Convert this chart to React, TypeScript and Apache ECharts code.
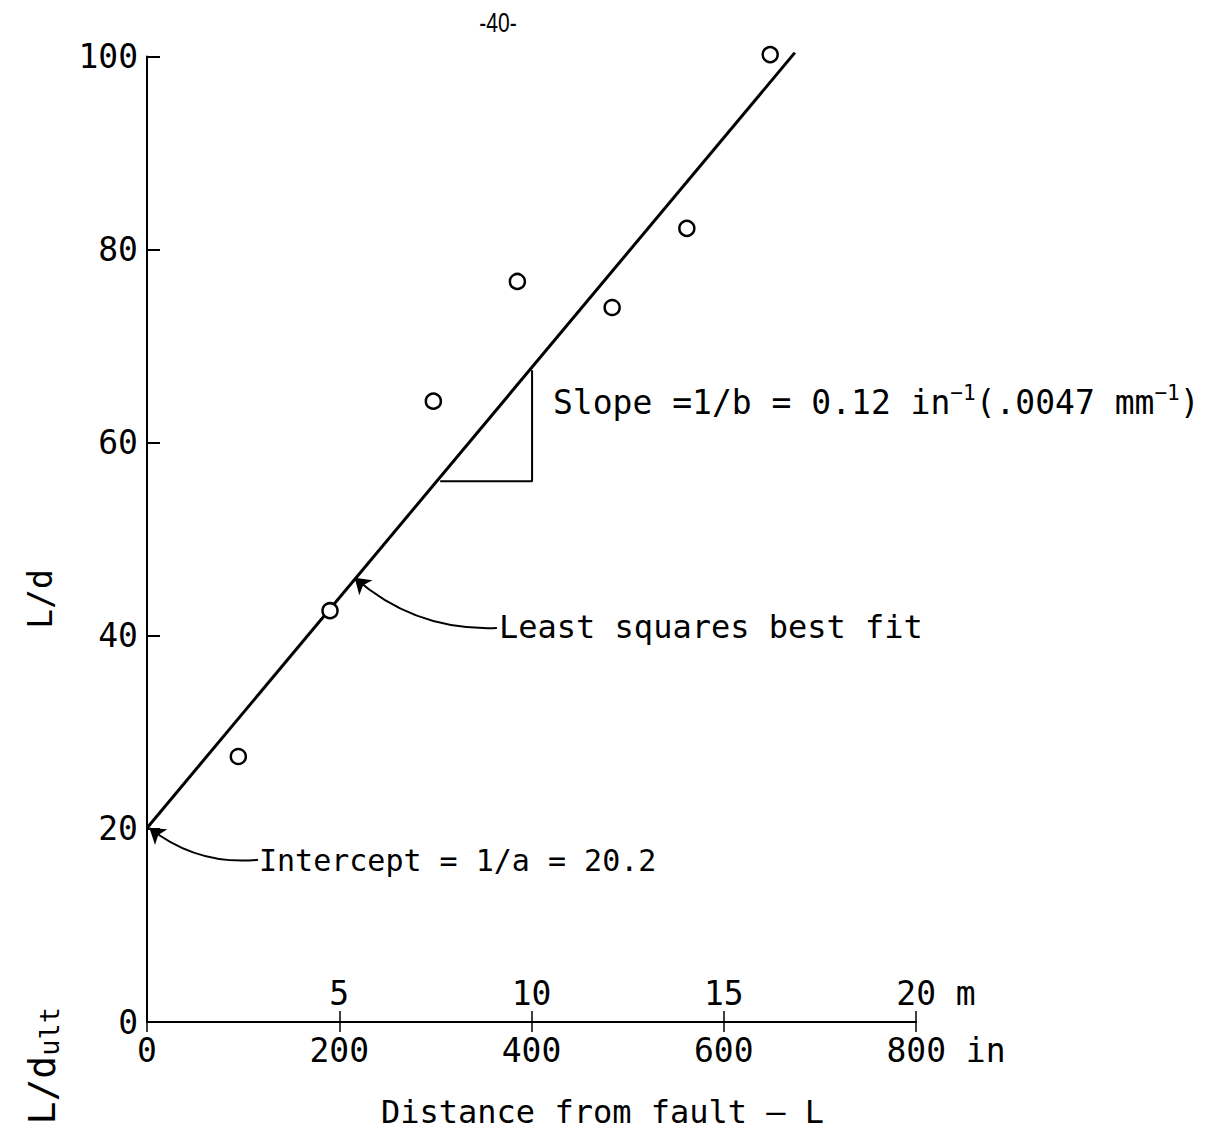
import React, { useEffect, useRef } from 'react';
import * as echarts from 'echarts';

// Axis ticks
const inchTicks = [0, 200, 400, 600, 800];
const meterTicks = [0, 5, 10, 15, 20];
const yTicks = [0, 20, 40, 60, 80, 100];

// Observed points (distance in inches, L/d)
const pointsX = [95, 190.4, 297.9, 385.3, 483.9, 561.6, 648.3];
const pointsY = [27.5, 42.6, 64.3, 76.7, 74.0, 82.2, 100.2];

// Least squares best fit line end points
const fitX = [0, 674];
const fitY = [20.1, 100.4];

// Slope triangle
const triX = [305, 400.6, 400.6];
const triY = [56, 56, 67.5];

// Annotation arrows (tail -> head), in data units
const fitArrowFrom = [364, 40.8];
const fitArrowTo = [216, 46.0];
const interceptArrowFrom = [115.5, 16.8];
const interceptArrowTo = [2.5, 20.1];

const FONT = 'DejaVu Sans Mono';

export default function App() {
  const ref = useRef<HTMLDivElement>(null);

  useEffect(() => {
    if (!ref.current) return;
    const chart = echarts.init(ref.current, null, { renderer: 'svg' });

    const option: any = {
      animation: false,
      backgroundColor: '#fff',
      grid: { left: 147, right: 296, top: 56.5, bottom: 111, containLabel: false },
      xAxis: [
        {
          type: 'value',
          min: inchTicks[0],
          max: inchTicks[inchTicks.length - 1],
          interval: 200,
          position: 'bottom',
          axisLine: { show: true, onZero: false, lineStyle: { color: '#000', width: 2 } },
          axisTick: { show: true, inside: true, length: 11, lineStyle: { color: '#000', width: 1.5 } },
          splitLine: { show: false },
          axisLabel: {
            color: '#000',
            fontFamily: FONT,
            fontSize: 33,
            margin: 12,
            formatter: (v: number) => (v === 800 ? '{u|800 in}' : String(v)),
            rich: { u: { fontFamily: FONT, fontSize: 33, color: '#000', padding: [0, 0, 0, 60] } },
          },
        },
        {
          type: 'value',
          min: meterTicks[0],
          max: meterTicks[meterTicks.length - 1],
          interval: 5,
          position: 'bottom',
          axisLine: { show: false, onZero: false },
          axisTick: { show: true, inside: false, length: 10, lineStyle: { color: '#000', width: 1.5 } },
          splitLine: { show: false },
          axisLabel: {
            inside: true,
            color: '#000',
            fontFamily: FONT,
            fontSize: 33,
            margin: 12,
            formatter: (v: number) => (v === 0 ? '' : v === 20 ? '{u|20 m}' : String(v)),
            rich: { u: { fontFamily: FONT, fontSize: 33, color: '#000', padding: [0, 0, 0, 40] } },
          },
        },
      ],
      yAxis: {
        type: 'value',
        min: yTicks[0],
        max: yTicks[yTicks.length - 1],
        interval: 20,
        axisLine: { show: true, onZero: false, lineStyle: { color: '#000', width: 2 } },
        axisTick: { show: true, inside: true, length: 13, lineStyle: { color: '#000', width: 2 } },
        splitLine: { show: false },
        axisLabel: { color: '#000', fontFamily: FONT, fontSize: 33, margin: 9 },
      },
      series: [
        {
          type: 'line',
          name: 'fit',
          data: fitX.map((x, i) => [x, fitY[i]]),
          symbol: 'none',
          clip: false,
          lineStyle: { color: '#000', width: 3 },
          z: 2,
        },
        {
          type: 'line',
          name: 'triangle',
          data: triX.map((x, i) => [x, triY[i]]),
          symbol: 'none',
          clip: false,
          lineStyle: { color: '#000', width: 2 },
          z: 2,
        },
        {
          type: 'lines',
          name: 'arrows',
          coordinateSystem: 'cartesian2d',
          silent: true,
          symbol: ['none', 'arrow'],
          symbolSize: 15,
          lineStyle: { color: '#000', width: 2, curveness: 0.2, opacity: 1 },
          data: [
            { coords: [fitArrowFrom, fitArrowTo] },
            { coords: [interceptArrowFrom, interceptArrowTo] },
          ],
          z: 3,
        },
        {
          type: 'scatter',
          name: 'points',
          data: pointsX.map((x, i) => [x, pointsY[i]]),
          symbol: 'circle',
          symbolSize: 15,
          clip: false,
          itemStyle: { color: '#fff', borderColor: '#000', borderWidth: 2.5, opacity: 1 },
          z: 5,
        },
      ],
      graphic: [
        {
          type: 'text',
          x: 498,
          y: 22,
          scaleX: 0.75,
          style: {
            text: '-40-',
            fontFamily: 'Liberation Sans',
            fontSize: 28,
            fill: '#000',
            align: 'center',
            verticalAlign: 'middle',
          },
        },
        {
          type: 'text',
          x: 40,
          y: 599,
          rotation: Math.PI / 2,
          style: {
            text: 'L/d',
            fontFamily: FONT,
            fontSize: 33,
            fill: '#000',
            align: 'center',
            verticalAlign: 'middle',
          },
        },
        {
          type: 'text',
          x: 42,
          y: 1007,
          rotation: Math.PI / 2,
          style: {
            text: '{n|L/d}{s|ult}',
            fill: '#000',
            align: 'right',
            verticalAlign: 'middle',
            rich: {
              n: { fontFamily: FONT, fontSize: 38, fill: '#000' },
              s: { fontFamily: FONT, fontSize: 27, fill: '#000', padding: [14, 0, 0, 0] },
            },
          },
        },
        {
          type: 'text',
          x: 553,
          y: 402,
          style: {
            text: '{n|Slope =1/b = 0.12 in}{s|−1}{n|(.0047 mm}{s|−1}{n|)}',
            fill: '#000',
            align: 'left',
            verticalAlign: 'middle',
            rich: {
              n: { fontFamily: FONT, fontSize: 33, fill: '#000', lineHeight: 40 },
              s: { fontFamily: FONT, fontSize: 21, fill: '#000', lineHeight: 40, verticalAlign: 'top' },
            },
          },
        },
        {
          type: 'text',
          x: 499,
          y: 627,
          style: {
            text: 'Least squares best fit',
            fontFamily: FONT,
            fontSize: 32,
            fill: '#000',
            align: 'left',
            verticalAlign: 'middle',
          },
        },
        {
          type: 'text',
          x: 259,
          y: 860,
          style: {
            text: 'Intercept = 1/a = 20.2',
            fontFamily: FONT,
            fontSize: 30,
            fill: '#000',
            align: 'left',
            verticalAlign: 'middle',
          },
        },
        {
          type: 'text',
          x: 381,
          y: 1112,
          style: {
            text: 'Distance from fault — L',
            fontFamily: FONT,
            fontSize: 32,
            fill: '#000',
            align: 'left',
            verticalAlign: 'middle',
          },
        },
      ],
    };

    chart.setOption(option);
    return () => chart.dispose();
  }, []);

  return (
    <div
      ref={ref}
      style={{ position: 'fixed', left: 0, top: 0, width: 1212, height: 1133, background: '#fff' }}
    />
  );
}
